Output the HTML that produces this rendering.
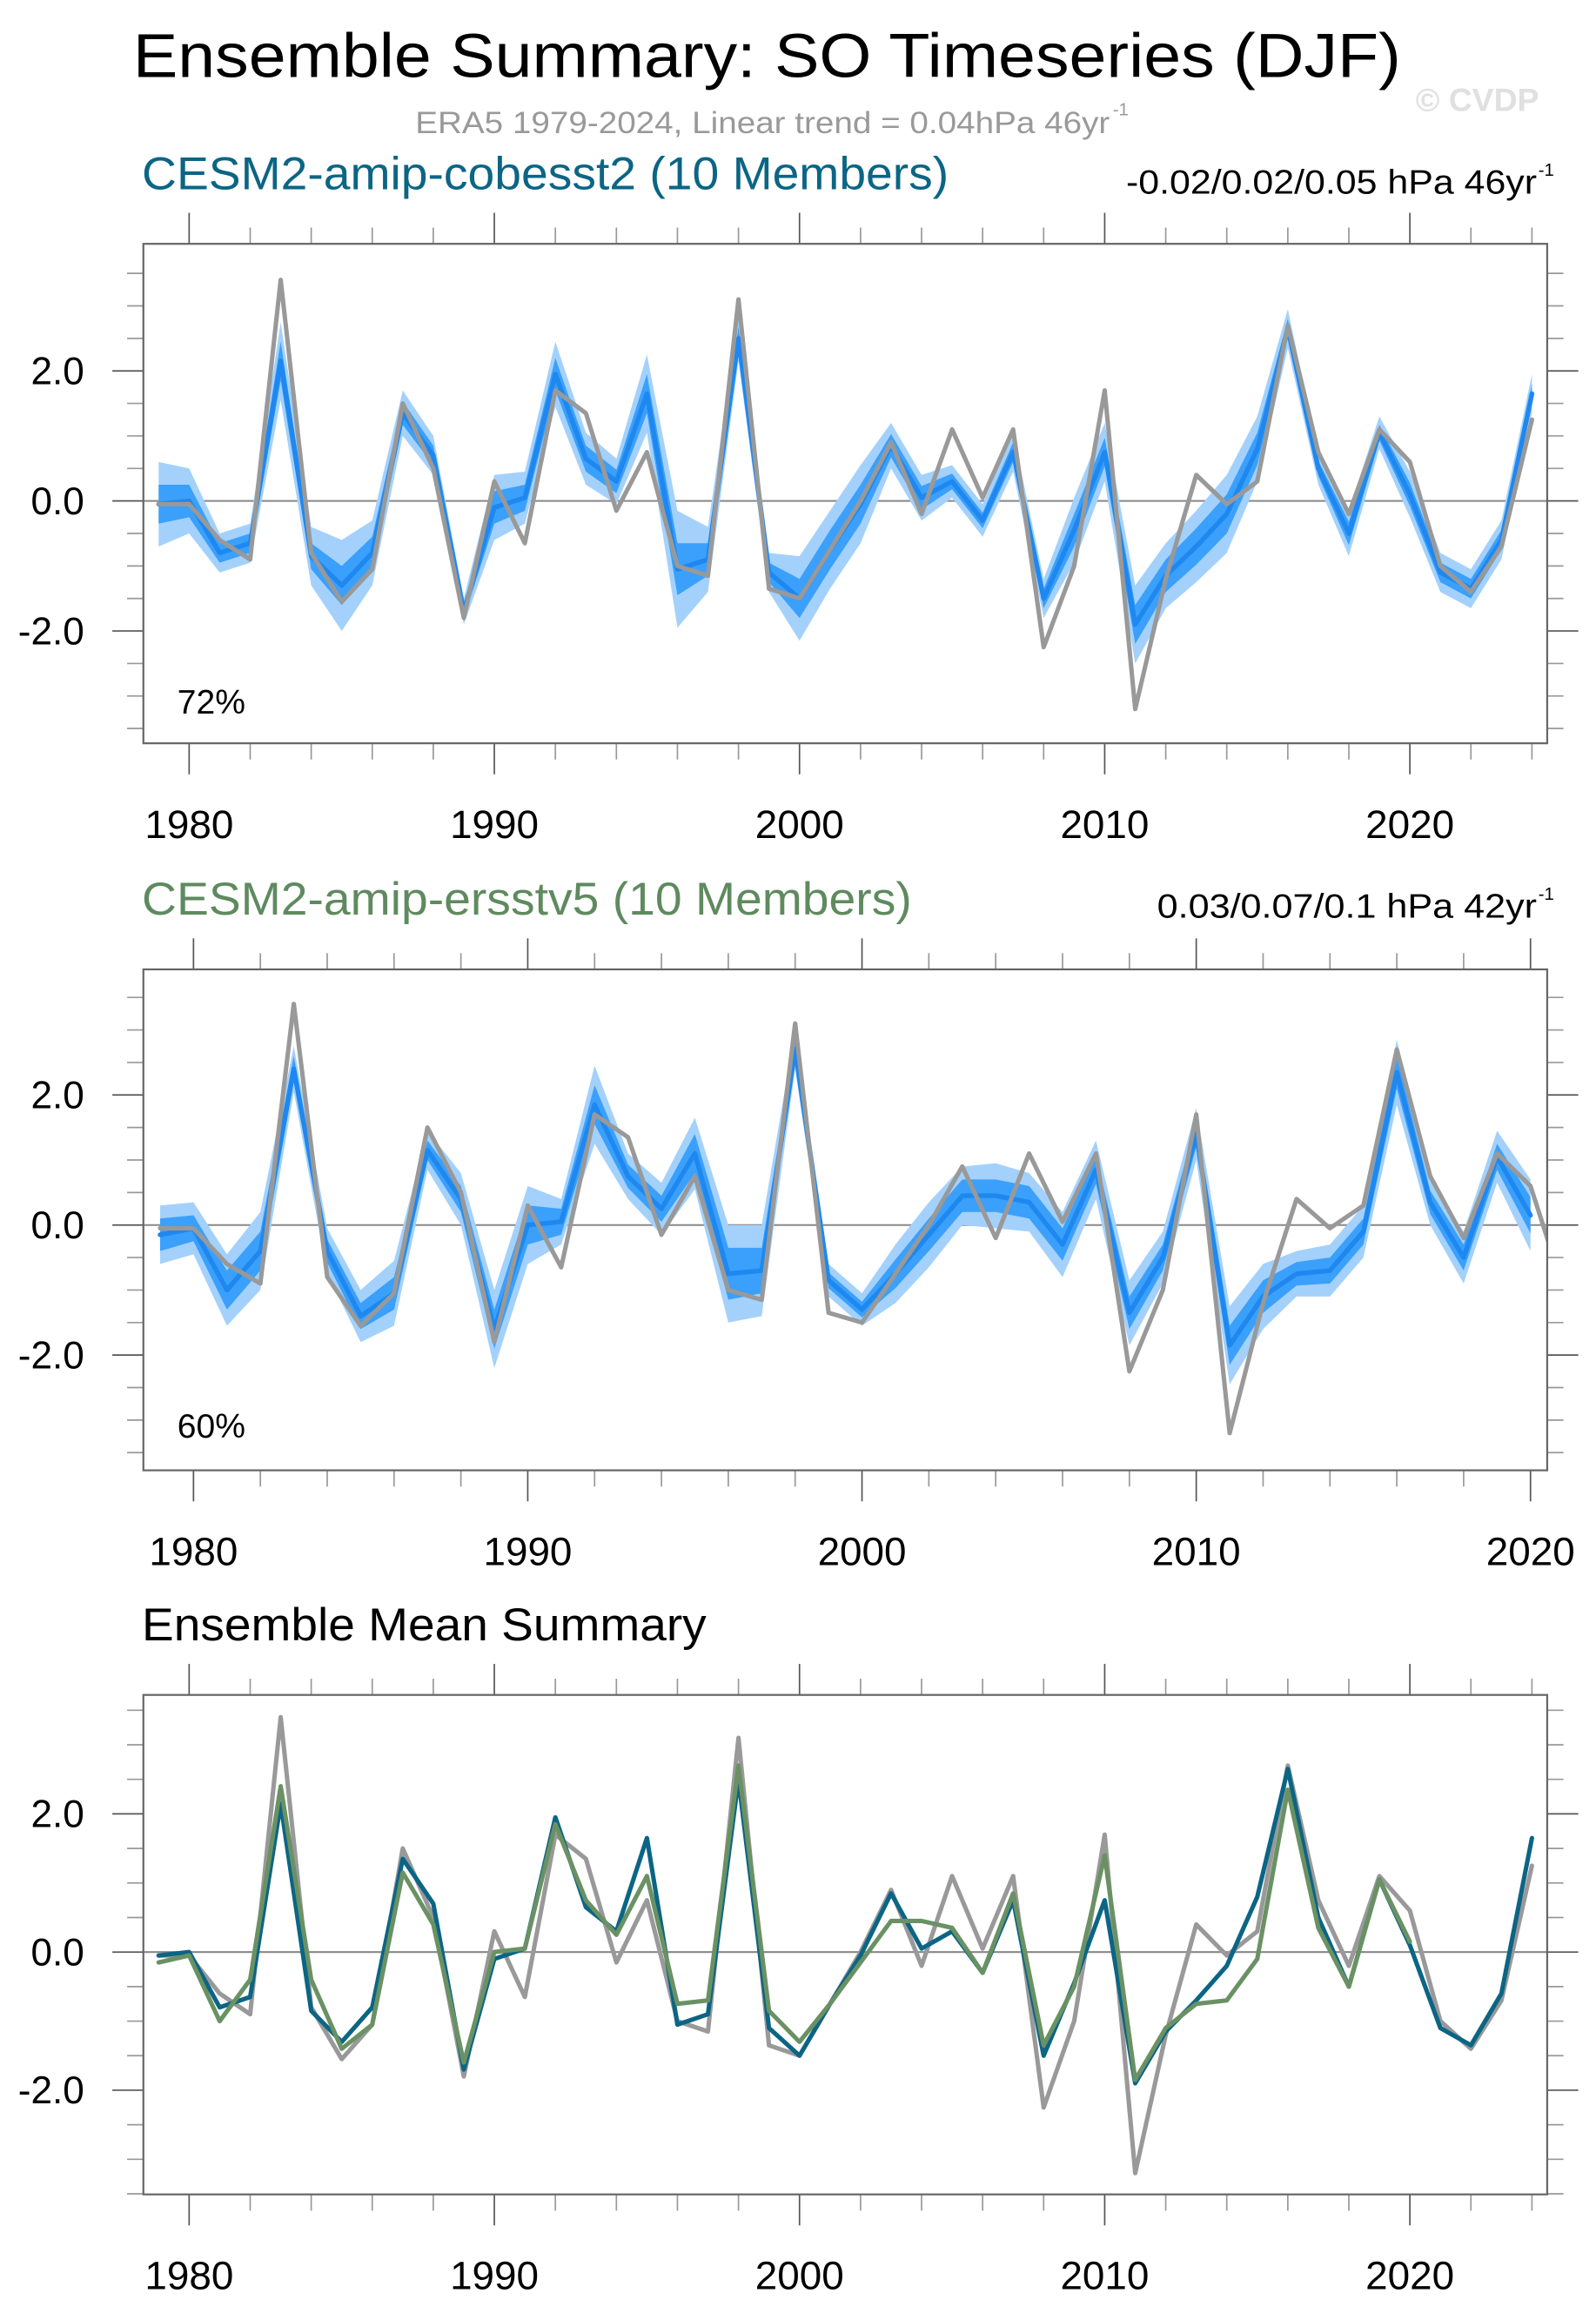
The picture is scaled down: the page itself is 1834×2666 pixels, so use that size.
<!DOCTYPE html>
<html><head><meta charset="utf-8"><style>
html,body{margin:0;padding:0;background:#fff}
svg{display:block}
text{font-family:"Liberation Sans",sans-serif}
</style></head><body>
<svg id="fig" width="1834" height="2666" viewBox="0 0 1080 1570" xmlns="http://www.w3.org/2000/svg">
<text x="90" y="52" font-size="42" textLength="858" lengthAdjust="spacingAndGlyphs">Ensemble Summary: SO Timeseries (DJF)</text>
<text x="281" y="90" font-size="21" fill="#999" textLength="470" lengthAdjust="spacingAndGlyphs">ERA5 1979-2024, Linear trend = 0.04hPa 46yr</text>
<text x="753" y="78" font-size="12" fill="#999">-1</text>
<text x="958" y="75" font-size="22" font-weight="bold" fill="#e0e0e0">© CVDP</text>
<text x="96" y="128" font-size="31" fill="#0b6585" textLength="546" lengthAdjust="spacingAndGlyphs">CESM2-amip-cobesst2 (10 Members)</text>
<text x="762" y="131" font-size="23" textLength="278" lengthAdjust="spacingAndGlyphs">-0.02/0.02/0.05 hPa 46yr</text>
<text x="1041" y="119" font-size="12">-1</text>
<text x="96" y="619" font-size="31" fill="#5f8a5f" textLength="521" lengthAdjust="spacingAndGlyphs">CESM2-amip-ersstv5 (10 Members)</text>
<text x="783" y="621" font-size="23" textLength="257" lengthAdjust="spacingAndGlyphs">0.03/0.07/0.1 hPa 42yr</text>
<text x="1041" y="609" font-size="12">-1</text>
<text x="96" y="1110" font-size="31" textLength="382" lengthAdjust="spacingAndGlyphs">Ensemble Mean Summary</text>
</svg>
<script>
// ---- data ----
const yearsERA = [1979,1980,1981,1982,1983,1984,1985,1986,1987,1988,1989,1990,1991,1992,1993,1994,1995,1996,1997,1998,1999,2000,2001,2002,2003,2004,2005,2006,2007,2008,2009,2010,2011,2012,2013,2014,2015,2016,2017,2018,2019,2020,2021,2022,2023,2024];
const era5 = [-0.05,-0.05,-0.6,-0.9,3.4,-0.8,-1.55,-1.05,1.5,0.5,-1.8,0.3,-0.65,1.7,1.35,-0.15,0.75,-1.0,-1.15,3.1,-1.35,-1.5,-0.75,0.0,0.9,-0.2,1.1,0.05,1.1,-2.25,-1.0,1.7,-3.2,-1.2,0.4,-0.05,0.3,2.7,0.75,-0.2,1.1,0.6,-1.0,-1.4,-0.7,1.25];
const cobMean = [-0.05,0.0,-0.8,-0.65,2.15,-0.85,-1.3,-0.8,1.35,0.7,-1.7,-0.1,0.05,1.95,0.65,0.3,1.65,-1.05,-0.9,2.5,-1.1,-1.5,-0.75,-0.05,0.85,0.05,0.3,-0.3,0.75,-1.5,-0.45,0.75,-1.9,-1.15,-0.7,-0.2,0.8,2.65,0.5,-0.5,1.05,0.1,-1.1,-1.35,-0.6,1.65];
const cobOuter = [0.65,0.5,0.3,0.3,0.6,0.45,0.7,0.5,0.35,0.3,0.2,0.5,0.4,0.5,0.4,0.35,0.6,0.9,0.5,0.35,0.3,0.65,0.6,0.6,0.35,0.35,0.25,0.25,0.3,0.3,0.5,0.45,0.6,0.5,0.55,0.6,0.5,0.3,0.25,0.35,0.25,0.35,0.3,0.3,0.3,0.3];
const cobInner = [0.3,0.25,0.15,0.15,0.3,0.2,0.3,0.25,0.18,0.15,0.1,0.25,0.2,0.25,0.2,0.18,0.3,0.4,0.25,0.18,0.15,0.3,0.3,0.3,0.18,0.18,0.12,0.12,0.15,0.15,0.25,0.22,0.3,0.25,0.28,0.3,0.25,0.15,0.12,0.18,0.12,0.18,0.15,0.15,0.15,0.15];
const yearsERS = yearsERA.slice(0,42);
const ersMean = [-0.15,-0.05,-1.0,-0.4,2.4,-0.4,-1.4,-1.05,1.15,0.4,-1.6,0.0,0.05,1.85,0.75,0.25,1.1,-0.75,-0.7,2.7,-0.85,-1.3,-0.75,-0.15,0.45,0.45,0.35,-0.3,0.85,-1.35,-0.5,1.4,-1.85,-1.1,-0.75,-0.7,-0.1,2.35,0.35,-0.5,1.05,0.15];
const ersOuter = [0.45,0.4,0.55,0.6,0.35,0.35,0.4,0.5,0.3,0.4,0.6,0.6,0.35,0.6,0.35,0.4,0.55,0.75,0.7,0.3,0.25,0.25,0.45,0.5,0.45,0.5,0.45,0.5,0.45,0.5,0.4,0.4,0.6,0.5,0.35,0.4,0.4,0.5,0.35,0.4,0.4,0.55];
const ersInner = [0.25,0.2,0.3,0.3,0.2,0.18,0.2,0.25,0.15,0.2,0.3,0.3,0.2,0.3,0.18,0.2,0.3,0.4,0.35,0.15,0.12,0.12,0.22,0.25,0.25,0.25,0.25,0.25,0.22,0.25,0.2,0.2,0.3,0.25,0.18,0.2,0.2,0.25,0.18,0.2,0.2,0.28];
const yTickVals = [-2, 0, 2];
const yTickLabels = ["-2.0","0.0","2.0"];
const xTickVals1 = [1980,1990,2000,2010,2020];
const pctLabels = ["72%","60%"];

const NS = "http://www.w3.org/2000/svg";
const svg = document.getElementById('fig');
function mk(tag, attrs, parent){const e=document.createElementNS(NS,tag);for(const k in attrs)e.setAttribute(k,attrs[k]);(parent||svg).appendChild(e);return e;}

function panel(id, box, x0, x1, zeroY, unitPx, majorYears){
  const X = y => box.l + (y - x0)/(x1 - x0)*(box.r - box.l);
  const Y = v => zeroY - v*unitPx;
  const g = mk('g',{});
  
  
  const cid = id+'-clip';
  const cp = mk('clipPath',{id:cid},g);
  mk('rect',{x:box.l,y:box.t,width:box.r-box.l,height:box.b-box.t},cp);
  const plot = mk('g',{'clip-path':'url(#'+cid+')'},g);
  const zl = mk('line',{x1:box.l,x2:box.r,y1:Y(0),y2:Y(0),stroke:'#888','stroke-width':1.2},plot);
  
  
  const ax = mk('g',{stroke:'#555','stroke-width':1},g);
  for(let yr=1980; yr<=2024; yr+=2){
    const x=X(yr); if(x<box.l||x>box.r) continue;
    const major = yr%10===0;
    const L = major?21:11;
    mk('line',{x1:x,x2:x,y1:box.t,y2:box.t-L,stroke:major?'#555':'#999'},ax);
    mk('line',{x1:x,x2:x,y1:box.b,y2:box.b+L,stroke:major?'#555':'#999'},ax);
  }
  for(let v=-4; v<=4.001; v+=0.5){
    const y=Y(v); if(y<box.t||y>box.b) continue;
    const major = Math.abs(v%2)<1e-6;
    const L = major?21:11;
    mk('line',{x1:box.l,x2:box.l-L,y1:y,y2:y,stroke:major?'#555':'#999'},ax);
    mk('line',{x1:box.r,x2:box.r+L,y1:y,y2:y,stroke:major?'#555':'#999'},ax);
  }
  const fr = mk('rect',{x:box.l,y:box.t,width:box.r-box.l,height:box.b-box.t,fill:'none',stroke:'#666','stroke-width':1.3},g);
  
  
  yTickVals.forEach((v,i)=>{
    const t = mk('text',{x:57,y:Y(v)+9,'font-size':26,'text-anchor':'end'},g);
    
    
    t.textContent = yTickLabels[i];
  });
  majorYears.forEach(yr=>{
    const t = mk('text',{x:X(yr),y:box.b+64,'font-size':27,'text-anchor':'middle'},g);
    
    
    t.textContent = String(yr);
  });
  return {X,Y,plot,g};
}
function band(p, years, mean, hw, color, name){
  let d='';
  years.forEach((yr,i)=>{d+=(i?'L':'M')+p.X(yr).toFixed(2)+','+p.Y(mean[i]+hw[i]).toFixed(2);});
  for(let i=years.length-1;i>=0;i--) d+='L'+p.X(years[i]).toFixed(2)+','+p.Y(mean[i]-hw[i]).toFixed(2);
  const e = mk('path',{d:d+'Z',fill:color,stroke:'none'},p.plot);
  
  
}
function line(p, years, vals, color, w, name){
  const pts = years.map((yr,i)=>p.X(yr).toFixed(2)+','+p.Y(vals[i]).toFixed(2)).join(' ');
  const e = mk('polyline',{points:pts,fill:'none',stroke:color,'stroke-width':w,'stroke-linejoin':'round','stroke-linecap':'round'},p.plot);
  
  
}
function pct(p, txt, y){
  const t = mk('text',{x:120,y:y,'font-size':23},p.g);
  
  
  t.textContent = txt;
}

const p1 = panel('panel-cobesst2',{l:97,r:1047,t:165,b:503},1978.5,2024.5,339,44,xTickVals1);
band(p1,yearsERA,cobMean,cobOuter,'#a3d1fc','cobesst2-outer-spread');
band(p1,yearsERA,cobMean,cobInner,'#3aa0fb','cobesst2-inner-spread');
line(p1,yearsERA,cobMean,'#1e88f0',3.2,'cobesst2-ensemble-mean-line');
line(p1,yearsERA,era5,'#999',3,'era5-line');
pct(p1,pctLabels[0],483);

const p2 = panel('panel-ersstv5',{l:97,r:1047,t:656,b:995},1978.5,2020.5,829,44,xTickVals1);
band(p2,yearsERS,ersMean,ersOuter,'#a3d1fc','ersstv5-outer-spread');
band(p2,yearsERS,ersMean,ersInner,'#3aa0fb','ersstv5-inner-spread');
line(p2,yearsERS,ersMean,'#1e88f0',3.2,'ersstv5-ensemble-mean-line');
line(p2,yearsERA,era5,'#999',3,'era5-line');
pct(p2,pctLabels[1],973);

const p3 = panel('panel-ensemble-mean-summary',{l:97,r:1047,t:1147,b:1485},1978.5,2024.5,1321,46.75,xTickVals1);
line(p3,yearsERA,era5,'#999',3,'era5-line');
line(p3,yearsERA,cobMean,'#0b6585',3,'cobesst2-mean-line');
line(p3,yearsERS,ersMean,'#6a9163',3,'ersstv5-mean-line');
</script>
</body></html>
